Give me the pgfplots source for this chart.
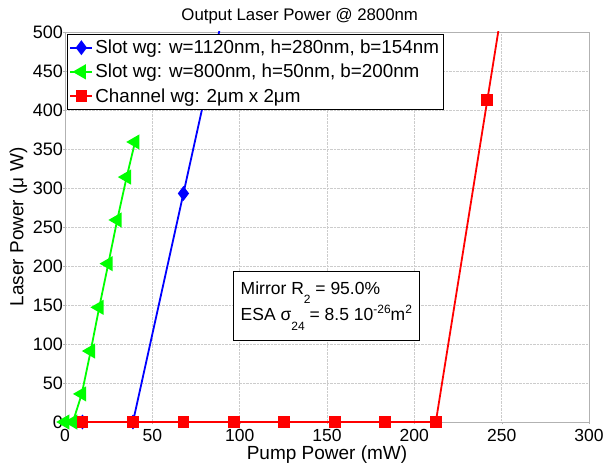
\documentclass[border=0pt]{standalone}
\usepackage{fontspec}
\setmainfont{Liberation Sans}
\usepackage{pgfplots}
\pgfplotsset{compat=1.18}
\newcommand\lo[1]{\raisebox{-0.55em}{\fontsize{12}{12}\selectfont #1}}
\newcommand\hi[1]{\raisebox{0.42em}{\fontsize{12}{12}\selectfont #1}}
\begin{document}
\begin{tikzpicture}
\useasboundingbox (-65pt,-44pt) rectangle (540pt,422pt);
\begin{axis}[at={(0,0)},anchor=south west,scale only axis,
 width=524pt,height=390pt,
 xmin=0,xmax=300,ymin=0,ymax=500,
 xtick={0,50,...,300},ytick={0,50,...,500},
 /pgf/number format/assume math mode=true,
 xticklabel style={font=\fontsize{17.5}{20}\selectfont,inner ysep=0pt,yshift=-5pt},
 yticklabel style={font=\fontsize{18}{20}\selectfont,inner sep=0pt},
 axis line style={gray!60},tick style={gray!60},
 tick align=outside,tick pos=left,major tick length=2pt,
 grid=major,major grid style={gray!40,densely dotted},
 title={Output Laser Power @ 2800nm},
 title style={font=\fontsize{16.8}{20}\selectfont,at={(axis description cs:0.448,1)},anchor=base,yshift=5pt},
 xlabel={Pump Power (mW)},ylabel={Laser Power (μ W)},
 xlabel style={font=\fontsize{19}{21}\selectfont,at={(axis description cs:0.5,-0.096)},anchor=base,inner sep=0pt},
 ylabel style={font=\fontsize{19}{21}\selectfont,at={(axis description cs:-0.0796,0.5)},anchor=base},
 legend cell align=left,
 legend style={at={(axis description cs:0.0044,0.995)},anchor=north west,draw=black,
  font=\fontsize{18.8}{21}\selectfont,inner xsep=2pt,inner ysep=4pt,row sep=5pt},
 legend image code/.code={\draw[mark repeat=2,mark phase=2] plot coordinates {(0pt,0pt)(11pt,0pt)(22pt,0pt)};},
 every axis plot/.append style={line width=1.8pt}]
\addplot[blue,mark=diamond*,mark size=6pt] coordinates {
 (10,0)(38.9,0)(67.8,293)(96.7,586)};
\addplot[green,mark=triangle*,mark size=7pt,mark options={rotate=90}] coordinates {
 (0,0)(4.5,0)(9.6,36)(14.7,91)(19.6,147)(24.8,203)(29.9,259)(35.3,314)(40.1,359)};
\addplot[red,mark=square*,mark size=5pt] coordinates {
 (10,0)(38.9,0)(67.8,0)(96.7,0)(125.6,0)(154.5,0)(183.4,0)(212.3,0)(241.8,413)(271.3,826)};
\legend{{Slot wg: w=1120nm, h=280nm, b=154nm},{Slot wg: w=800nm, h=50nm, b=200nm},{Channel wg: 2μm x 2μm}}
\node[draw=black,fill=white,align=left,anchor=north west,inner xsep=7.5pt,inner ysep=10pt,
 font=\fontsize{17.5}{23.3}\selectfont] at (axis cs:96.2,193)
 {Mirror R\lo{2} = 95.0\%\\ESA σ\lo{24} = 8.5 10\hi{-26}m\hi{2}};
\end{axis}
\end{tikzpicture}
\end{document}
